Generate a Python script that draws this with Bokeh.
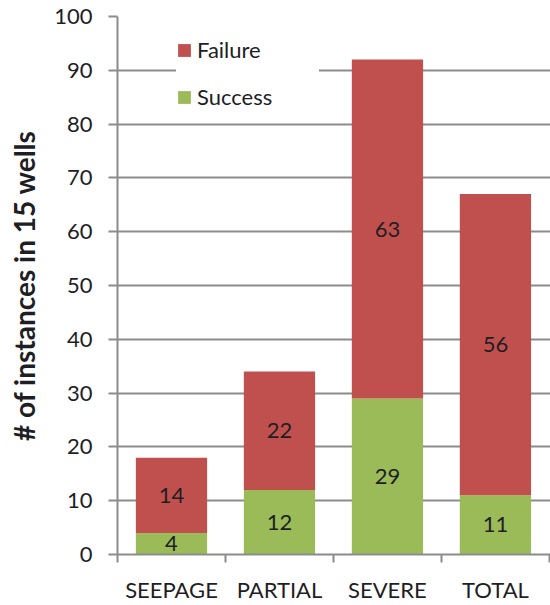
from bokeh.plotting import figure
from bokeh.models import ColumnDataSource, FixedTicker, Legend, LegendItem, Range1d
from bokeh.core.properties import value
from bokeh.embed import file_html
from bokeh.resources import INLINE

categories = ["SEEPAGE", "PARTIAL", "SEVERE", "TOTAL"]
success = [4, 12, 29, 11]
failure = [14, 22, 63, 56]
y_ticks = list(range(0, 101, 10))

FONT = "Lato"
TXT = "#1e1e24"
GRID = "#8c8c8c"
RED = "#C0504D"
GREEN = "#9BBB59"

n = len(categories)
xc = [i + 0.5 for i in range(n)]
src = ColumnDataSource(dict(
    x=xc,
    Success=success,
    Failure=failure,
    s_mid=[s / 2 for s in success],
    f_mid=[s + f / 2 for s, f in zip(success, failure)],
    s_lbl=[str(s) for s in success],
    f_lbl=[str(f) for f in failure],
))

p = figure(width=550, height=605, output_backend="svg", toolbar_location=None,
           x_range=Range1d(0, n + 0.01), y_range=Range1d(0, 100),
           min_border_left=117, min_border_right=0, min_border_top=16, min_border_bottom=45)
p.outline_line_color = None
p.background_fill_color = "white"

rs = p.vbar_stack(["Success", "Failure"], x="x", width=0.66, source=src,
                  color=[GREEN, RED], line_color=None)

p.text(x="x", y="s_mid", text="s_lbl", source=src, text_font=value(FONT),
       text_font_size="22px", text_color=TXT, text_align="center", text_baseline="middle")
p.text(x="x", y="f_mid", text="f_lbl", source=src, text_font=value(FONT),
       text_font_size="22px", text_color=TXT, text_align="center", text_baseline="middle")

# x axis
p.xaxis.ticker = FixedTicker(ticks=xc, minor_ticks=list(range(n + 1)))
p.xaxis.major_label_overrides = {v: c for v, c in zip(xc, categories)}
p.xaxis.major_tick_line_color = None
p.xaxis.major_tick_out = 0
p.xaxis.major_tick_in = 0
p.xaxis.minor_tick_out = 8
p.xaxis.minor_tick_in = 0
p.xaxis.minor_tick_line_color = GRID
p.xaxis.minor_tick_line_width = 2
p.xaxis.axis_line_color = GRID
p.xaxis.axis_line_width = 2
p.xaxis.major_label_text_font = FONT
p.xaxis.major_label_text_font_size = "22px"
p.xaxis.major_label_text_color = TXT
p.xaxis.major_label_standoff = 13

# y axis
p.yaxis.ticker = FixedTicker(ticks=y_ticks)
p.yaxis.minor_tick_line_color = None
p.yaxis.major_tick_out = 9
p.yaxis.major_tick_in = 0
p.yaxis.major_tick_line_color = GRID
p.yaxis.major_tick_line_width = 2
p.yaxis.axis_line_color = GRID
p.yaxis.axis_line_width = 2
p.yaxis.major_label_text_font = FONT
p.yaxis.major_label_text_font_size = "22px"
p.yaxis.major_label_text_color = TXT
p.yaxis.major_label_standoff = 16
p.yaxis.axis_label = "# of instances in 15 wells"
p.yaxis.axis_label_text_font = FONT
p.yaxis.axis_label_text_font_size = "28px"
p.yaxis.axis_label_text_font_style = "bold"
p.yaxis.axis_label_text_color = TXT
p.yaxis.axis_label_standoff = 10

p.xgrid.grid_line_color = None
p.ygrid.grid_line_color = GRID
p.ygrid.grid_line_width = 2

legend = Legend(items=[LegendItem(label="Failure", renderers=[rs[1]]),
                       LegendItem(label="Success", renderers=[rs[0]])],
                location=(59, 444))
legend.glyph_width = 16
legend.glyph_height = 16
legend.label_height = 24
legend.label_width = 122
legend.spacing = 20
legend.padding = 8
legend.margin = 0
legend.label_standoff = 5
legend.label_text_font = FONT
legend.label_text_font_size = "22px"
legend.label_text_color = TXT
legend.border_line_color = None
legend.background_fill_color = "white"
legend.background_fill_alpha = 1
p.add_layout(legend)

open("out.html", "w").write(file_html(p, INLINE))
